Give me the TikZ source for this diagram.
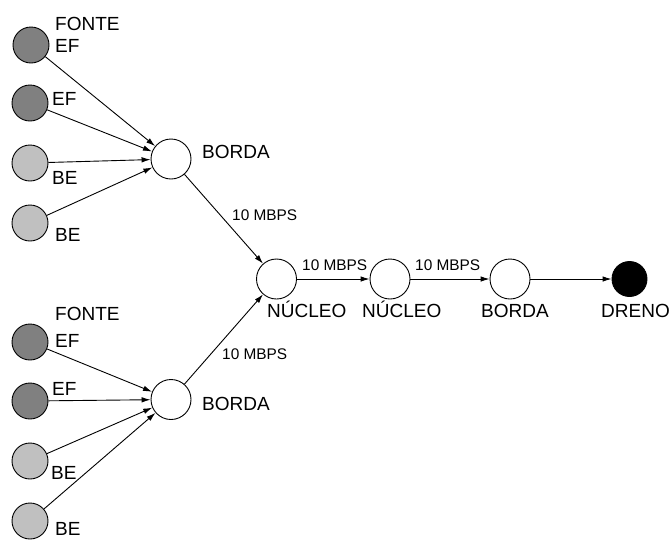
\documentclass[tikz,border=0pt]{standalone}
\usepackage{fontspec}
\setmainfont{Liberation Sans}
\usetikzlibrary{arrows.meta}
\definecolor{efgray}{RGB}{128,128,128}
\definecolor{begray}{RGB}{192,192,192}
\begin{document}
\begin{tikzpicture}[x=1pt,y=-1pt,
  src/.style={circle,draw=black,line width=0.9pt,minimum size=36pt,inner sep=0pt},
  ef/.style={src,fill=efgray},
  be/.style={src,fill=begray},
  router/.style={circle,draw=black,line width=0.9pt,fill=white,minimum size=40pt,inner sep=0pt},
  sink/.style={circle,draw=black,line width=0.9pt,fill=black,minimum size=35pt,inner sep=0pt},
  lbl/.style={anchor=base west,inner sep=0pt,font=\fontsize{19}{22}\selectfont},
  rate/.style={anchor=base west,inner sep=0pt,font=\fontsize{15.4}{18}\selectfont},
  link/.style={line width=0.9pt,-{Latex[length=9pt,width=5.5pt]}}]
\useasboundingbox (0,0) rectangle (672,539);
% top group
\node[ef] (s1) at (31,45) {};
\node[ef] (s2) at (30,103) {};
\node[be] (s3) at (30,163) {};
\node[be] (s4) at (30,223) {};
\node[router] (b1) at (171,159) {};
% bottom group
\node[ef] (s5) at (30,342) {};
\node[ef] (s6) at (30,401) {};
\node[be] (s7) at (30,461) {};
\node[be] (s8) at (30,521) {};
\node[router] (b2) at (171,399.5) {};
% core path
\node[router] (n1) at (276.5,279) {};
\node[router] (n2) at (390,279) {};
\node[router] (b3) at (510,279) {};
\node[sink] (d) at (629.5,279) {};
% connectors
\draw[link] (s1) -- (b1);
\draw[link] (s2) -- (b1);
\draw[link] (s3) -- (b1);
\draw[link] (s4) -- (b1);
\draw[link] (s5) -- (b2);
\draw[link] (s6) -- (b2);
\draw[link] (s7) -- (b2);
\draw[link] (s8) -- (b2);
\draw[link] (b1) -- (n1);
\draw[link] (b2) -- (n1);
\draw[link] (n1) -- (n2);
\draw[link] (n2) -- (b3);
\draw[link] (b3) -- (d);
% labels
\node[lbl] (t1) at (55,30.3) {FONTE};
\node[lbl] (t2) at (55,52.8) {EF};
\node[lbl] (t3) at (52,105.8) {EF};
\node[lbl] (t4) at (52,184.8) {BE};
\node[lbl] (t5) at (55,241.8) {BE};
\node[lbl] (t6) at (202,158.8) {BORDA};
\node[rate] (r1) at (232,220) {10 MBPS};
\node[rate] (r2) at (302,270) {10 MBPS};
\node[rate] (r3) at (415,270) {10 MBPS};
\node[lbl] (t7) at (267,317.5) {NÚCLEO};
\node[lbl] (t8) at (362,317.5) {NÚCLEO};
\node[lbl] (t9) at (481,317.5) {BORDA};
\node[lbl] (t10) at (601,317.5) {DRENO};
\node[lbl] (t11) at (55,320) {FONTE};
\node[lbl] (t12) at (55,347) {EF};
\node[lbl] (t13) at (52,395) {EF};
\node[lbl] (t14) at (51,479) {BE};
\node[lbl] (t15) at (55,535.5) {BE};
\node[rate] (r4) at (222,359.5) {10 MBPS};
\node[lbl] (t16) at (202,410.8) {BORDA};
\end{tikzpicture}
\end{document}
